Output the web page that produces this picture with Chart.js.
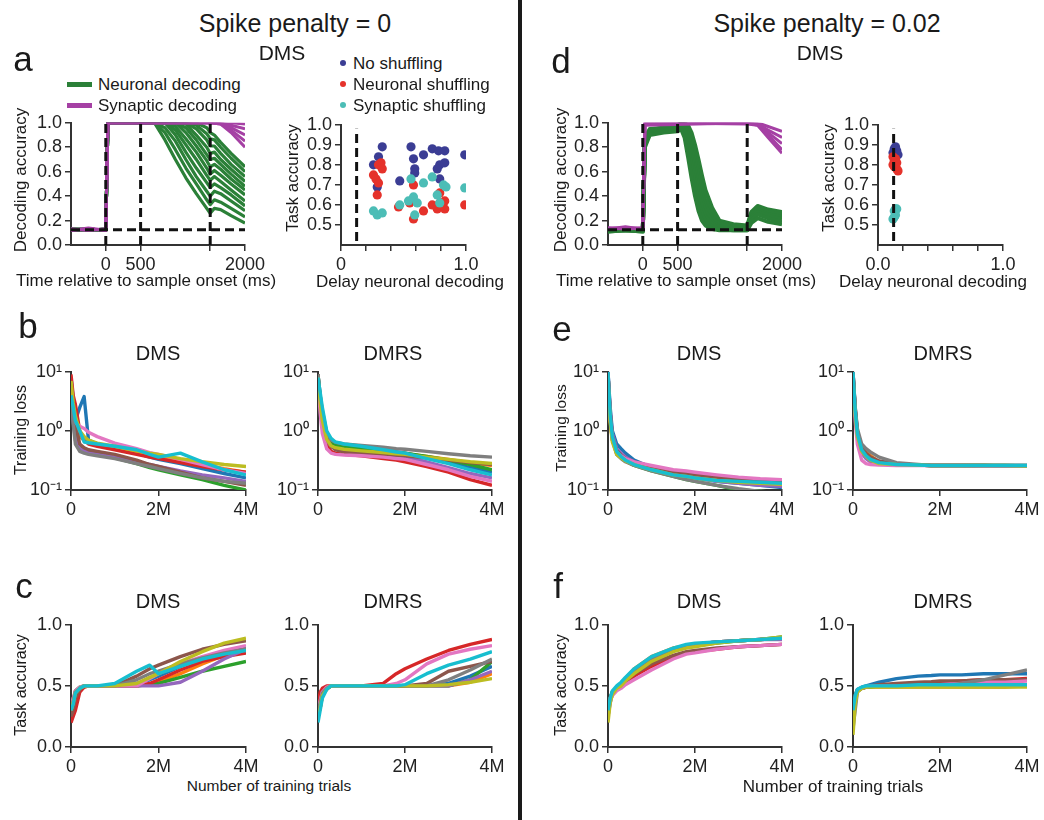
<!DOCTYPE html>
<html>
<head>
<meta charset="utf-8">
<script src="https://cdn.jsdelivr.net/npm/chart.js@4.4.1/dist/chart.umd.min.js"></script>
<style>
  body { margin: 0; background: #fff; }
  #fig { position: relative; width: 1044px; height: 820px; overflow: hidden;
         font-family: 'Liberation Sans', Arial, sans-serif; color: #1a1a1a; }
  #fig canvas { position: absolute; }
  .t { position: absolute; white-space: nowrap; line-height: 1; }
  .divider { position: absolute; left: 518px; top: 0; width: 4px; height: 820px; background: #1a1a1a; }
</style>
</head>
<body>
<div id="fig"><div class="divider"></div></div>
<script>
// ---- panel a / d: decoding accuracy over the trial ----
const epochBoundariesMs = [0, 500, 1500];
const chanceLevel = 0.125;
const timeRangeMs = [-500, 2000];
const timeTicksMs = [0, 500, 1500, 2000];
const timeTickLabels = ['0', '500', '', '2000'];
const decodingTicks = [0, 0.2, 0.4, 0.6, 0.8, 1.0];

const p0NeuronalTimes = [-500, -250, 0, 30, 700, 850, 1000, 1150, 1300, 1450, 1500, 1560, 1650, 1800, 2000];
const p0NeuronalDecoding = [
  [0.12, 0.13, 0.12, 1.0, 1.0, 0.86, 0.70, 0.55, 0.42, 0.30, 0.26, 0.30, 0.29, 0.24, 0.18],
  [0.13, 0.12, 0.13, 1.0, 1.0, 0.92, 0.78, 0.63, 0.50, 0.37, 0.33, 0.37, 0.35, 0.30, 0.23],
  [0.12, 0.13, 0.12, 1.0, 1.0, 0.96, 0.85, 0.70, 0.56, 0.44, 0.40, 0.44, 0.42, 0.36, 0.28],
  [0.12, 0.12, 0.13, 1.0, 1.0, 1.0, 0.90, 0.76, 0.63, 0.51, 0.47, 0.50, 0.47, 0.41, 0.32],
  [0.13, 0.13, 0.12, 1.0, 1.0, 1.0, 0.94, 0.82, 0.70, 0.57, 0.53, 0.56, 0.52, 0.45, 0.36],
  [0.12, 0.13, 0.12, 1.0, 1.0, 1.0, 0.97, 0.87, 0.76, 0.63, 0.58, 0.61, 0.57, 0.50, 0.41],
  [0.12, 0.12, 0.12, 1.0, 1.0, 1.0, 1.0, 0.92, 0.81, 0.69, 0.64, 0.66, 0.62, 0.54, 0.45],
  [0.13, 0.12, 0.13, 1.0, 1.0, 1.0, 1.0, 0.96, 0.86, 0.74, 0.70, 0.71, 0.66, 0.58, 0.48],
  [0.12, 0.13, 0.12, 1.0, 1.0, 1.0, 1.0, 0.99, 0.90, 0.80, 0.75, 0.76, 0.70, 0.62, 0.52],
  [0.12, 0.12, 0.12, 1.0, 1.0, 1.0, 1.0, 1.0, 0.95, 0.86, 0.81, 0.81, 0.75, 0.66, 0.56],
  [0.13, 0.13, 0.12, 1.0, 1.0, 1.0, 1.0, 1.0, 0.98, 0.91, 0.87, 0.86, 0.80, 0.71, 0.60],
  [0.12, 0.12, 0.13, 1.0, 1.0, 1.0, 1.0, 1.0, 1.0, 0.96, 0.92, 0.90, 0.84, 0.75, 0.64]
];
const synapticTimes = [-500, -250, 0, 30, 1500, 1650, 1800, 2000];
const p0SynapticDecoding = [
  [0.12, 0.13, 0.12, 1.0, 1.0, 1.0, 1.0, 0.99],
  [0.13, 0.12, 0.13, 1.0, 1.0, 1.0, 0.98, 0.95],
  [0.12, 0.14, 0.12, 1.0, 1.0, 1.0, 0.96, 0.90],
  [0.13, 0.12, 0.13, 1.0, 1.0, 0.99, 0.94, 0.85],
  [0.12, 0.13, 0.12, 1.0, 1.0, 0.99, 0.92, 0.80]
];
const p02NeuronalTimes = [-500, -250, 0, 30, 100, 300, 500, 550, 600, 650, 700, 750, 800, 850, 900, 1000, 1100, 1300, 1500, 1560, 1650, 1800, 2000];
const p02NeuronalDecoding = [
  [0.11, 0.12, 0.11, 0.80, 0.90, 0.92, 0.93, 0.95, 0.88, 0.72, 0.55, 0.40, 0.28, 0.20, 0.16, 0.13, 0.12, 0.12, 0.12, 0.18, 0.22, 0.19, 0.17],
  [0.12, 0.13, 0.12, 0.82, 0.91, 0.93, 0.95, 0.97, 0.93, 0.80, 0.64, 0.48, 0.34, 0.25, 0.19, 0.15, 0.13, 0.12, 0.12, 0.20, 0.25, 0.22, 0.19],
  [0.12, 0.12, 0.12, 0.84, 0.92, 0.94, 0.96, 0.98, 0.96, 0.86, 0.71, 0.55, 0.41, 0.30, 0.23, 0.17, 0.14, 0.13, 0.13, 0.22, 0.27, 0.24, 0.21],
  [0.11, 0.12, 0.12, 0.85, 0.93, 0.95, 0.97, 0.99, 0.98, 0.91, 0.78, 0.62, 0.48, 0.36, 0.27, 0.19, 0.15, 0.14, 0.13, 0.23, 0.29, 0.25, 0.23],
  [0.12, 0.13, 0.12, 0.86, 0.93, 0.95, 0.97, 1.0, 0.99, 0.94, 0.83, 0.69, 0.55, 0.42, 0.32, 0.22, 0.17, 0.15, 0.14, 0.25, 0.30, 0.27, 0.25],
  [0.12, 0.12, 0.11, 0.87, 0.94, 0.96, 0.98, 1.0, 1.0, 0.97, 0.88, 0.76, 0.62, 0.50, 0.38, 0.26, 0.18, 0.16, 0.15, 0.26, 0.31, 0.28, 0.26],
  [0.12, 0.13, 0.12, 0.88, 0.95, 0.96, 0.98, 1.0, 1.0, 0.98, 0.92, 0.82, 0.70, 0.57, 0.45, 0.30, 0.20, 0.17, 0.16, 0.27, 0.32, 0.29, 0.27]
];
const p02SynapticDecoding = [
  [0.13, 0.14, 0.13, 0.98, 1.0, 1.0, 0.97, 0.93],
  [0.14, 0.13, 0.14, 0.99, 1.0, 0.99, 0.94, 0.88],
  [0.13, 0.15, 0.13, 0.99, 1.0, 0.99, 0.92, 0.83],
  [0.14, 0.14, 0.14, 1.0, 1.0, 0.98, 0.90, 0.78],
  [0.13, 0.14, 0.13, 1.0, 0.99, 0.98, 0.88, 0.75]
];

// ---- scatter: task accuracy vs delay neuronal decoding ----
const scatterXTicks = [0, 0.2, 0.4, 0.6, 0.8, 1.0];
const scatterXLabelsP0 = ['0', '', '', '', '', '1.0'];
const scatterXLabelsP02 = ['0.0', '', '', '', '', '1.0'];
const scatterYTicks = [0.5, 0.6, 0.7, 0.8, 0.9, 1.0];
const scatterYRange = [0.4, 1.0];
const scatterDashSpan = [0.42, 0.98];

const p0NoShufX = [0.26, 0.30, 0.33, 0.29, 0.47, 0.56, 0.58, 0.59, 0.59, 0.66, 0.73, 0.78, 0.83, 0.79, 0.83, 0.79, 0.99, 0.77];
const p0NoShufY = [0.80, 0.84, 0.89, 0.69, 0.72, 0.89, 0.83, 0.78, 0.76, 0.85, 0.88, 0.87, 0.87, 0.80, 0.81, 0.73, 0.85, 0.78];
const p0NeuShufX = [0.26, 0.28, 0.30, 0.29, 0.30, 0.33, 0.32, 0.46, 0.55, 0.58, 0.58, 0.66, 0.73, 0.77, 0.79, 0.83, 0.83, 0.99, 0.79];
const p0NeuShufY = [0.75, 0.73, 0.71, 0.65, 0.80, 0.78, 0.81, 0.59, 0.61, 0.53, 0.70, 0.57, 0.60, 0.58, 0.66, 0.58, 0.62, 0.60, 0.61];
const p0SynShufX = [0.26, 0.29, 0.33, 0.47, 0.54, 0.56, 0.58, 0.59, 0.61, 0.66, 0.73, 0.77, 0.79, 0.82, 0.84, 0.99];
const p0SynShufY = [0.57, 0.55, 0.56, 0.60, 0.62, 0.73, 0.64, 0.55, 0.61, 0.71, 0.74, 0.65, 0.61, 0.70, 0.69, 0.685];

const p02NoShufX = [0.13, 0.14, 0.15, 0.16, 0.12];
const p02NoShufY = [0.88, 0.89, 0.87, 0.85, 0.86];
const p02NeuShufX = [0.12, 0.13, 0.14, 0.15, 0.16, 0.13, 0.14, 0.15, 0.12];
const p02NeuShufY = [0.84, 0.82, 0.80, 0.78, 0.77, 0.79, 0.83, 0.81, 0.80];
const p02SynShufX = [0.13, 0.14, 0.15, 0.13, 0.14, 0.12];
const p02SynShufY = [0.57, 0.58, 0.58, 0.54, 0.55, 0.53];

// ---- panels b, c, e, f: training curves (x in millions of trials) ----
const trialsM = [0, 0.05, 0.1, 0.2, 0.3, 0.4, 0.6, 1.0, 1.5, 1.8, 2.0, 2.5, 3.0, 3.5, 4.0];
const trialTicks = [0, 2, 4];
const trialTickLabels = ['0', '2M', '4M'];
const lossTicks = [0.1, 1, 10];
const lossTickLabels = ['10⁻¹', '10⁰', '10¹'];
const accTicks = [0, 0.5, 1.0];
const accTickLabels = ['0.0', '0.5', '1.0'];

const lossDmsP0 = [
  [8, 3.5, 1.5, 2.5, 3.8, 0.7, 0.6, 0.5, 0.42, 0.36, 0.33, 0.28, 0.23, 0.19, 0.16],
  [6, 2.5, 1.2, 0.8, 0.7, 0.62, 0.57, 0.5, 0.42, 0.38, 0.36, 0.31, 0.27, 0.23, 0.2],
  [7, 2.2, 0.9, 0.55, 0.5, 0.46, 0.42, 0.35, 0.28, 0.24, 0.22, 0.18, 0.15, 0.12, 0.1],
  [9, 4, 2.8, 1.0, 0.7, 0.6, 0.55, 0.48, 0.4, 0.36, 0.34, 0.29, 0.25, 0.22, 0.2],
  [5, 1.5, 0.7, 0.5, 0.46, 0.43, 0.4, 0.36, 0.3, 0.27, 0.25, 0.21, 0.18, 0.16, 0.14],
  [6, 2.8, 1.3, 0.6, 0.52, 0.48, 0.45, 0.4, 0.32, 0.27, 0.25, 0.2, 0.16, 0.14, 0.12],
  [4, 2.0, 1.4, 1.2, 1.1, 0.95, 0.8, 0.62, 0.5, 0.43, 0.4, 0.33, 0.27, 0.22, 0.19],
  [5, 1.3, 0.6, 0.45, 0.42, 0.4, 0.38, 0.34, 0.28, 0.25, 0.23, 0.19, 0.16, 0.14, 0.13],
  [7, 3.0, 1.8, 1.0, 0.8, 0.7, 0.62, 0.55, 0.46, 0.42, 0.4, 0.34, 0.3, 0.27, 0.25],
  [4, 2.5, 1.5, 1.0, 0.65, 0.63, 0.6, 0.55, 0.48, 0.4, 0.36, 0.42, 0.3, 0.22, 0.18]
];
const lossDmrsP0 = [
  [9, 4, 2, 0.9, 0.65, 0.6, 0.56, 0.52, 0.47, 0.44, 0.42, 0.36, 0.3, 0.24, 0.2],
  [8, 3, 1.5, 0.8, 0.6, 0.56, 0.52, 0.49, 0.45, 0.42, 0.41, 0.37, 0.33, 0.29, 0.26],
  [9, 3.5, 1.8, 0.85, 0.62, 0.57, 0.53, 0.5, 0.46, 0.43, 0.42, 0.37, 0.32, 0.27, 0.22],
  [7, 2.5, 1.2, 0.6, 0.45, 0.42, 0.4, 0.38, 0.34, 0.32, 0.3, 0.25, 0.2, 0.15, 0.12],
  [8, 3, 1.4, 0.7, 0.55, 0.5, 0.47, 0.44, 0.41, 0.38, 0.37, 0.3, 0.24, 0.19, 0.16],
  [9, 3.2, 1.6, 0.75, 0.55, 0.48, 0.44, 0.42, 0.4, 0.39, 0.38, 0.35, 0.32, 0.29, 0.27],
  [7, 2, 0.9, 0.5, 0.42, 0.4, 0.39, 0.38, 0.36, 0.34, 0.33, 0.27, 0.22, 0.17, 0.14],
  [9, 4, 2.2, 0.95, 0.7, 0.64, 0.6, 0.57, 0.53, 0.5, 0.49, 0.45, 0.41, 0.38, 0.36],
  [8, 3, 1.5, 0.72, 0.56, 0.52, 0.49, 0.46, 0.43, 0.41, 0.4, 0.36, 0.33, 0.3, 0.28],
  [8, 4.5, 2.5, 1.0, 0.75, 0.65, 0.6, 0.55, 0.48, 0.44, 0.42, 0.34, 0.28, 0.22, 0.18]
];
const lossDmsP02 = [
  [10, 2.5, 1.0, 0.6, 0.5, 0.42, 0.32, 0.24, 0.19, 0.17, 0.16, 0.14, 0.13, 0.12, 0.11],
  [8, 1.5, 0.7, 0.45, 0.38, 0.33, 0.28, 0.23, 0.19, 0.18, 0.17, 0.15, 0.14, 0.13, 0.12],
  [9, 1.8, 0.8, 0.42, 0.35, 0.31, 0.26, 0.21, 0.17, 0.15, 0.14, 0.12, 0.1, 0.095, 0.09],
  [9, 2, 0.85, 0.48, 0.4, 0.35, 0.3, 0.25, 0.21, 0.2, 0.19, 0.17, 0.16, 0.15, 0.145],
  [10, 2.2, 0.9, 0.5, 0.42, 0.36, 0.3, 0.24, 0.19, 0.17, 0.16, 0.14, 0.13, 0.12, 0.115],
  [9, 2, 0.8, 0.46, 0.39, 0.34, 0.29, 0.24, 0.2, 0.19, 0.18, 0.165, 0.155, 0.15, 0.145],
  [8, 1.6, 0.75, 0.44, 0.38, 0.34, 0.3, 0.26, 0.22, 0.21, 0.2, 0.18, 0.165, 0.155, 0.15],
  [9, 1.7, 0.7, 0.4, 0.34, 0.3, 0.26, 0.21, 0.17, 0.15, 0.14, 0.12, 0.105, 0.095, 0.09],
  [7, 1.4, 0.65, 0.4, 0.35, 0.31, 0.27, 0.22, 0.18, 0.17, 0.16, 0.145, 0.135, 0.13, 0.125],
  [10, 1.9, 0.8, 0.45, 0.37, 0.32, 0.27, 0.22, 0.18, 0.17, 0.16, 0.145, 0.14, 0.135, 0.13]
];
const lossDmrsP02 = [
  [10, 2.5, 1.0, 0.5, 0.38, 0.32, 0.28, 0.27, 0.265, 0.26, 0.26, 0.26, 0.26, 0.26, 0.255],
  [8, 2.0, 0.9, 0.55, 0.45, 0.38, 0.3, 0.27, 0.265, 0.26, 0.26, 0.26, 0.26, 0.255, 0.255],
  [9, 2.2, 0.95, 0.5, 0.4, 0.34, 0.29, 0.27, 0.265, 0.26, 0.26, 0.26, 0.26, 0.26, 0.26],
  [10, 2.3, 0.9, 0.45, 0.38, 0.34, 0.3, 0.27, 0.265, 0.26, 0.26, 0.26, 0.255, 0.255, 0.255],
  [9, 2.0, 0.85, 0.42, 0.34, 0.3, 0.28, 0.27, 0.265, 0.26, 0.26, 0.26, 0.26, 0.26, 0.26],
  [9, 2.4, 1.0, 0.52, 0.42, 0.36, 0.31, 0.275, 0.265, 0.26, 0.26, 0.26, 0.26, 0.255, 0.255],
  [8, 1.5, 0.6, 0.32, 0.28, 0.27, 0.265, 0.26, 0.26, 0.26, 0.26, 0.26, 0.255, 0.255, 0.255],
  [10, 2.6, 1.1, 0.6, 0.5, 0.44, 0.36, 0.29, 0.27, 0.26, 0.26, 0.26, 0.26, 0.26, 0.26],
  [8, 1.9, 0.8, 0.45, 0.37, 0.32, 0.28, 0.27, 0.265, 0.26, 0.26, 0.26, 0.26, 0.26, 0.255],
  [10, 2.2, 0.9, 0.48, 0.38, 0.33, 0.29, 0.27, 0.265, 0.26, 0.26, 0.26, 0.26, 0.26, 0.26]
];
const accDmsP0 = [
  [0.3, 0.35, 0.45, 0.48, 0.5, 0.5, 0.5, 0.5, 0.52, 0.55, 0.58, 0.66, 0.73, 0.78, 0.82],
  [0.25, 0.3, 0.42, 0.47, 0.49, 0.5, 0.5, 0.5, 0.5, 0.51, 0.53, 0.6, 0.68, 0.75, 0.8],
  [0.3, 0.38, 0.46, 0.49, 0.5, 0.5, 0.5, 0.5, 0.5, 0.51, 0.52, 0.57, 0.62, 0.66, 0.7],
  [0.2, 0.25, 0.3, 0.45, 0.49, 0.5, 0.5, 0.5, 0.5, 0.52, 0.55, 0.63, 0.7, 0.74, 0.77],
  [0.3, 0.35, 0.45, 0.48, 0.5, 0.5, 0.5, 0.5, 0.5, 0.5, 0.5, 0.53, 0.62, 0.72, 0.8],
  [0.25, 0.3, 0.4, 0.47, 0.5, 0.5, 0.5, 0.5, 0.58, 0.64, 0.67, 0.74, 0.8, 0.84, 0.87],
  [0.35, 0.4, 0.46, 0.49, 0.5, 0.5, 0.5, 0.5, 0.5, 0.56, 0.6, 0.68, 0.74, 0.79, 0.83],
  [0.3, 0.38, 0.45, 0.48, 0.5, 0.5, 0.5, 0.5, 0.55, 0.6, 0.62, 0.68, 0.73, 0.77, 0.8],
  [0.3, 0.36, 0.44, 0.48, 0.5, 0.5, 0.5, 0.5, 0.52, 0.57, 0.6, 0.7, 0.78, 0.85, 0.89],
  [0.3, 0.35, 0.44, 0.48, 0.5, 0.5, 0.5, 0.52, 0.62, 0.67, 0.6, 0.66, 0.72, 0.76, 0.79]
];
const accDmrsP0 = [
  [0.3, 0.38, 0.46, 0.49, 0.5, 0.5, 0.5, 0.5, 0.5, 0.5, 0.5, 0.5, 0.52, 0.58, 0.66],
  [0.25, 0.32, 0.42, 0.48, 0.5, 0.5, 0.5, 0.5, 0.5, 0.5, 0.5, 0.5, 0.5, 0.53, 0.6],
  [0.3, 0.36, 0.44, 0.48, 0.5, 0.5, 0.5, 0.5, 0.5, 0.5, 0.5, 0.5, 0.5, 0.55, 0.7],
  [0.35, 0.45, 0.48, 0.5, 0.5, 0.5, 0.5, 0.5, 0.52, 0.6, 0.64, 0.72, 0.79, 0.84, 0.88],
  [0.3, 0.36, 0.44, 0.48, 0.5, 0.5, 0.5, 0.5, 0.5, 0.5, 0.5, 0.5, 0.5, 0.55, 0.62],
  [0.25, 0.32, 0.42, 0.48, 0.5, 0.5, 0.5, 0.5, 0.5, 0.5, 0.5, 0.52, 0.62, 0.66, 0.7],
  [0.3, 0.38, 0.45, 0.49, 0.5, 0.5, 0.5, 0.5, 0.5, 0.52, 0.55, 0.68, 0.76, 0.8, 0.83],
  [0.3, 0.36, 0.44, 0.48, 0.5, 0.5, 0.5, 0.5, 0.5, 0.5, 0.5, 0.5, 0.55, 0.63, 0.72],
  [0.25, 0.32, 0.42, 0.47, 0.5, 0.5, 0.5, 0.5, 0.5, 0.5, 0.5, 0.5, 0.51, 0.53, 0.56],
  [0.2, 0.3, 0.4, 0.47, 0.5, 0.5, 0.5, 0.5, 0.5, 0.5, 0.51, 0.6, 0.67, 0.72, 0.78]
];
const accDmsP02 = [
  [0.3, 0.4, 0.45, 0.49, 0.52, 0.55, 0.62, 0.72, 0.8, 0.83, 0.84, 0.86, 0.87, 0.88, 0.89],
  [0.25, 0.38, 0.44, 0.49, 0.52, 0.56, 0.64, 0.74, 0.81, 0.83, 0.84, 0.86, 0.87, 0.88, 0.89],
  [0.3, 0.4, 0.45, 0.48, 0.5, 0.53, 0.58, 0.7, 0.79, 0.82, 0.83, 0.85, 0.87, 0.88, 0.9],
  [0.3, 0.38, 0.43, 0.47, 0.5, 0.53, 0.58, 0.66, 0.74, 0.77, 0.78, 0.8, 0.82, 0.83, 0.84],
  [0.25, 0.36, 0.43, 0.48, 0.51, 0.55, 0.62, 0.72, 0.8, 0.83, 0.84, 0.86, 0.87, 0.88, 0.88],
  [0.3, 0.4, 0.44, 0.48, 0.5, 0.54, 0.6, 0.68, 0.75, 0.78, 0.79, 0.81, 0.82, 0.83, 0.84],
  [0.3, 0.38, 0.42, 0.46, 0.48, 0.51, 0.55, 0.63, 0.72, 0.76, 0.77, 0.8, 0.82, 0.83, 0.84],
  [0.28, 0.4, 0.45, 0.49, 0.52, 0.56, 0.63, 0.73, 0.8, 0.83, 0.84, 0.86, 0.87, 0.88, 0.89],
  [0.2, 0.36, 0.43, 0.48, 0.5, 0.54, 0.6, 0.7, 0.78, 0.81, 0.82, 0.85, 0.87, 0.88, 0.9],
  [0.3, 0.4, 0.46, 0.5, 0.53, 0.57, 0.64, 0.74, 0.81, 0.84, 0.85, 0.86, 0.87, 0.88, 0.89]
];
const accDmrsP02 = [
  [0.3, 0.42, 0.47, 0.49, 0.5, 0.51, 0.53, 0.56, 0.58, 0.585, 0.59, 0.59, 0.6, 0.6, 0.6],
  [0.25, 0.4, 0.46, 0.48, 0.49, 0.49, 0.49, 0.49, 0.49, 0.49, 0.49, 0.49, 0.49, 0.49, 0.5],
  [0.2, 0.38, 0.46, 0.48, 0.49, 0.49, 0.5, 0.5, 0.5, 0.5, 0.5, 0.5, 0.5, 0.5, 0.5],
  [0.3, 0.4, 0.46, 0.48, 0.49, 0.5, 0.5, 0.51, 0.52, 0.525, 0.53, 0.54, 0.55, 0.55, 0.56],
  [0.25, 0.4, 0.46, 0.48, 0.49, 0.5, 0.5, 0.5, 0.5, 0.505, 0.51, 0.52, 0.53, 0.54, 0.55],
  [0.3, 0.42, 0.47, 0.48, 0.49, 0.5, 0.51, 0.52, 0.53, 0.535, 0.54, 0.54, 0.55, 0.55, 0.55],
  [0.28, 0.4, 0.46, 0.48, 0.49, 0.5, 0.5, 0.5, 0.5, 0.505, 0.51, 0.52, 0.53, 0.53, 0.54],
  [0.15, 0.3, 0.45, 0.48, 0.49, 0.5, 0.5, 0.5, 0.5, 0.5, 0.5, 0.52, 0.55, 0.59, 0.63],
  [0.1, 0.35, 0.45, 0.48, 0.49, 0.49, 0.49, 0.49, 0.49, 0.49, 0.49, 0.49, 0.49, 0.49, 0.49],
  [0.3, 0.42, 0.47, 0.49, 0.5, 0.5, 0.5, 0.5, 0.51, 0.51, 0.51, 0.51, 0.51, 0.51, 0.51]
];

// ---- styling ----
const FONT = "'Liberation Sans', Arial, sans-serif";
const TAB10 = ['#1f77b4', '#ff7f0e', '#2ca02c', '#d62728', '#9467bd', '#8c564b', '#e377c2', '#7f7f7f', '#bcbd22', '#17becf'];
const NEURONAL = '#2b8038';
const SYNAPTIC = '#a540a4';
const NO_SHUF = '#3b3d94';
const NEU_SHUF = '#e5322b';
const SYN_SHUF = '#4cbdb6';

const fig = document.getElementById('fig');

// text centred on (x, y); align 'left' anchors the left edge; rot rotates -90deg
function text(str, x, y, size, align, rot) {
  const d = document.createElement('div');
  d.className = 't';
  d.textContent = str;
  d.style.left = x + 'px';
  d.style.top = y + 'px';
  d.style.fontSize = size + 'px';
  let tf = align === 'left' ? 'translate(0,-50%)' : 'translate(-50%,-50%)';
  if (rot) tf += ' rotate(-90deg)';
  d.style.transform = tf;
  fig.appendChild(d);
}

function swatch(x, y, w, h, color, round) {
  const d = document.createElement('div');
  d.style.cssText = `position:absolute;left:${x}px;top:${y}px;width:${w}px;height:${h}px;background:${color};` +
    (round ? 'border-radius:50%;' : '');
  fig.appendChild(d);
}

function axis(o) {
  return {
    type: o.type || 'linear',
    min: o.min, max: o.max,
    afterBuildTicks: s => { s.ticks = o.ticks.map(v => ({ value: v })); },
    afterFit: o.fit,
    ticks: { callback: (v, i) => o.labels[i], font: { size: 18, family: FONT }, color: '#222',
             padding: 3, maxRotation: 0, autoSkip: false },
    grid: { drawOnChartArea: false, drawTicks: true, tickLength: 6, color: '#333', lineWidth: 1.5 },
    border: { display: true, color: '#333', width: 2 },
    title: { display: false }
  };
}

function makePanel(box, datasets, xo, yo) {
  const c = document.createElement('canvas');
  const W = box.yw + box.w + box.pr, H = box.pt + box.h + box.xh;
  c.width = W; c.height = H;
  c.style.left = (box.l - box.yw) + 'px';
  c.style.top = (box.t - box.pt) + 'px';
  c.style.width = W + 'px'; c.style.height = H + 'px';
  fig.appendChild(c);
  xo.fit = s => { s.height = box.xh; };
  yo.fit = s => { s.width = box.yw; };
  new Chart(c, {
    type: 'line',
    data: { datasets },
    options: {
      responsive: false, animation: false, devicePixelRatio: 1,
      layout: { padding: { top: box.pt, right: box.pr, left: 0, bottom: 0 } },
      plugins: { legend: { display: false }, tooltip: { enabled: false } },
      elements: { point: { radius: 0 }, line: { tension: 0 } },
      scales: { x: axis(xo), y: axis(yo) }
    }
  });
}

function line(xs, ys, color, width, order) {
  return { data: xs.map((x, i) => ({ x, y: ys[i] })), borderColor: color, backgroundColor: color,
           borderWidth: width, pointRadius: 0, fill: false, order, borderJoinStyle: 'round' };
}
function dashed(pts) {
  return { data: pts, borderColor: '#111', borderWidth: 3, borderDash: [9, 5], pointRadius: 0, fill: false, order: 0 };
}
function dots(xs, ys, color, order) {
  return { data: xs.map((x, i) => ({ x, y: ys[i] })), showLine: false, pointRadius: 4.6,
           pointBackgroundColor: color, pointBorderWidth: 0, borderColor: color, backgroundColor: color, order };
}

// decoding panels (a, d left)
function decodingSets(nTimes, nSeries, sSeries, nWidth) {
  const sets = [];
  epochBoundariesMs.forEach(t => sets.push(dashed([{ x: t, y: 0 }, { x: t, y: 1 }])));
  sets.push(dashed([{ x: timeRangeMs[0], y: chanceLevel }, { x: timeRangeMs[1], y: chanceLevel }]));
  sSeries.forEach(s => sets.push(line(synapticTimes, s, SYNAPTIC, 3, 1)));
  nSeries.forEach(s => sets.push(line(nTimes, s, NEURONAL, nWidth, 2)));
  return sets;
}
function timeAxis() {
  return { min: timeRangeMs[0], max: timeRangeMs[1], ticks: timeTicksMs, labels: timeTickLabels };
}
function decodingAxis() {
  return { min: 0, max: 1, ticks: decodingTicks, labels: decodingTicks.map(v => v.toFixed(1)) };
}

makePanel({ l: 71, t: 121, w: 174, h: 124, yw: 71, pr: 30, pt: 12, xh: 30 },
  decodingSets(p0NeuronalTimes, p0NeuronalDecoding, p0SynapticDecoding, 3.2), timeAxis(), decodingAxis());
makePanel({ l: 608, t: 121, w: 174, h: 124, yw: 63, pr: 30, pt: 12, xh: 30 },
  decodingSets(p02NeuronalTimes, p02NeuronalDecoding, p02SynapticDecoding, 4), timeAxis(), decodingAxis());

// scatter panels (a, d right)
function scatterSets(nx, ny, rx, ry, cx, cy) {
  return [
    dashed([{ x: chanceLevel, y: scatterDashSpan[0] }, { x: chanceLevel, y: scatterDashSpan[1] }]),
    dots(cx, cy, SYN_SHUF, 1),
    dots(rx, ry, NEU_SHUF, 2),
    dots(nx, ny, NO_SHUF, 3)
  ];
}
function scatterXAxis(labels) {
  return { min: 0, max: 1, ticks: scatterXTicks, labels };
}
function scatterYAxis() {
  return { min: scatterYRange[0], max: scatterYRange[1], ticks: scatterYTicks, labels: scatterYTicks.map(v => v.toFixed(1)) };
}
makePanel({ l: 341, t: 123, w: 125, h: 122, yw: 62, pr: 25, pt: 12, xh: 30 },
  scatterSets(p0NoShufX, p0NoShufY, p0NeuShufX, p0NeuShufY, p0SynShufX, p0SynShufY),
  scatterXAxis(scatterXLabelsP0), scatterYAxis());
makePanel({ l: 878, t: 123, w: 125, h: 122, yw: 63, pr: 25, pt: 12, xh: 30 },
  scatterSets(p02NoShufX, p02NoShufY, p02NeuShufX, p02NeuShufY, p02SynShufX, p02SynShufY),
  scatterXAxis(scatterXLabelsP02), scatterYAxis());

// training curves
function curveSets(series) {
  return series.map((s, i) => line(trialsM, s, TAB10[i], 3.4, 10 - i));
}
function trialAxis() {
  return { min: 0, max: 4, ticks: trialTicks, labels: trialTickLabels };
}
function lossAxis() {
  return { type: 'logarithmic', min: 0.1, max: 10, ticks: lossTicks, labels: lossTickLabels };
}
function accAxis() {
  return { min: 0, max: 1, ticks: accTicks, labels: accTickLabels };
}

makePanel({ l: 71, t: 370, w: 175, h: 120, yw: 71, pr: 25, pt: 12, xh: 30 }, curveSets(lossDmsP0), trialAxis(), lossAxis());
makePanel({ l: 318, t: 370, w: 174, h: 120, yw: 50, pr: 25, pt: 12, xh: 30 }, curveSets(lossDmrsP0), trialAxis(), lossAxis());
makePanel({ l: 608, t: 370, w: 174, h: 120, yw: 63, pr: 25, pt: 12, xh: 30 }, curveSets(lossDmsP02), trialAxis(), lossAxis());
makePanel({ l: 853, t: 370, w: 174, h: 120, yw: 55, pr: 16, pt: 12, xh: 30 }, curveSets(lossDmrsP02), trialAxis(), lossAxis());

makePanel({ l: 71, t: 623, w: 175, h: 124, yw: 71, pr: 25, pt: 12, xh: 30 }, curveSets(accDmsP0), trialAxis(), accAxis());
makePanel({ l: 318, t: 623, w: 174, h: 124, yw: 50, pr: 25, pt: 12, xh: 30 }, curveSets(accDmrsP0), trialAxis(), accAxis());
makePanel({ l: 608, t: 623, w: 174, h: 124, yw: 63, pr: 25, pt: 12, xh: 30 }, curveSets(accDmsP02), trialAxis(), accAxis());
makePanel({ l: 853, t: 623, w: 174, h: 124, yw: 55, pr: 16, pt: 12, xh: 30 }, curveSets(accDmrsP02), trialAxis(), accAxis());

// ---- axis titles ----
text('Decoding accuracy', 20, 180, 17, null, true);
text('Decoding accuracy', 560, 180, 17, null, true);
text('Task accuracy', 292, 178, 17, null, true);
text('Task accuracy', 828, 178, 17, null, true);
text('Time relative to sample onset (ms)', 146, 280, 17);
text('Time relative to sample onset (ms)', 686, 280, 17);
text('Delay neuronal decoding', 410, 281, 17);
text('Delay neuronal decoding', 933, 281, 17);
text('Training loss', 21, 430, 16, null, true);
text('Training loss', 561, 428, 15.5, null, true);
text('Task accuracy', 21, 685, 16, null, true);
text('Task accuracy', 561, 685, 16, null, true);
text('Number of training trials', 269, 786, 15.5);
text('Number of training trials', 833, 786, 17);

// ---- headings, letters, legends ----
text('Spike penalty = 0', 295, 23, 25);
text('Spike penalty = 0.02', 827, 23, 25);
text('DMS', 282, 52, 21);
text('DMS', 820, 52, 21);
text('a', 23, 58, 35); text('d', 561, 60, 35);
text('b', 28, 325, 35); text('e', 562, 328, 35);
text('c', 24, 585, 35); text('f', 558, 585, 35);
[['DMS', 158], ['DMRS', 393], ['DMS', 699], ['DMRS', 943]].forEach(([s, x]) => {
  text(s, x, 353, 20);
  text(s, x, 601, 20);
});

swatch(67, 82, 25, 5, NEURONAL);
swatch(67, 103, 25, 5, SYNAPTIC);
text('Neuronal decoding', 98, 84, 17, 'left');
text('Synaptic decoding', 98, 105, 17, 'left');
swatch(340, 60, 6, 6, NO_SHUF, true);
swatch(340, 81, 6, 6, NEU_SHUF, true);
swatch(340, 102, 6, 6, SYN_SHUF, true);
text('No shuffling', 353, 63, 17, 'left');
text('Neuronal shuffling', 353, 84, 17, 'left');
text('Synaptic shuffling', 353, 105, 17, 'left');
</script>
</body>
</html>
